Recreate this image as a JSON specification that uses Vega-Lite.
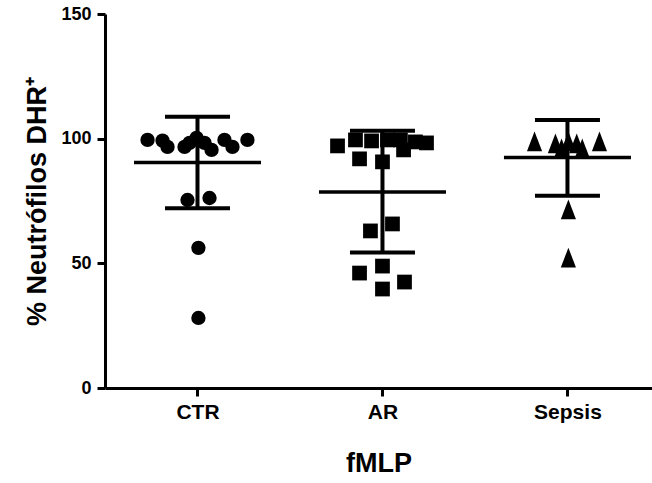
{
  "$schema": "https://vega.github.io/schema/vega-lite/v6.json",
  "width": 547,
  "height": 374,
  "autosize": "none",
  "padding": {"left": 105, "top": 14, "right": 0, "bottom": 95},
  "background": "white",
  "config": {
    "view": {"stroke": null},
    "font": "Liberation Sans",
    "axis": {
      "domainColor": "black",
      "domainWidth": 3,
      "tickColor": "black",
      "tickWidth": 3,
      "tickSize": 8,
      "grid": false,
      "labelColor": "black",
      "titleColor": "black",
      "labelFont": "Liberation Sans",
      "titleFont": "Liberation Sans",
      "labelFontWeight": "bold",
      "titleFontWeight": "bold"
    }
  },
  "datasets": {
    "points": [
      {"group": "CTR", "pos": 0.730, "value": 99.5},
      {"group": "CTR", "pos": 0.811, "value": 99.2},
      {"group": "CTR", "pos": 0.838, "value": 96.7},
      {"group": "CTR", "pos": 0.930, "value": 96.7},
      {"group": "CTR", "pos": 0.957, "value": 98.3},
      {"group": "CTR", "pos": 0.995, "value": 100.3},
      {"group": "CTR", "pos": 1.038, "value": 98.3},
      {"group": "CTR", "pos": 1.076, "value": 95.5},
      {"group": "CTR", "pos": 1.146, "value": 99.5},
      {"group": "CTR", "pos": 1.189, "value": 96.7},
      {"group": "CTR", "pos": 1.270, "value": 99.5},
      {"group": "CTR", "pos": 0.946, "value": 75.4},
      {"group": "CTR", "pos": 1.065, "value": 76.2},
      {"group": "CTR", "pos": 1.005, "value": 56.2},
      {"group": "CTR", "pos": 1.005, "value": 28.1},
      {"group": "AR", "pos": 1.757, "value": 97.1},
      {"group": "AR", "pos": 1.854, "value": 99.5},
      {"group": "AR", "pos": 1.941, "value": 99.1},
      {"group": "AR", "pos": 2.027, "value": 99.5},
      {"group": "AR", "pos": 2.097, "value": 99.5},
      {"group": "AR", "pos": 2.178, "value": 98.7},
      {"group": "AR", "pos": 2.238, "value": 98.3},
      {"group": "AR", "pos": 2.114, "value": 95.5},
      {"group": "AR", "pos": 1.876, "value": 91.9},
      {"group": "AR", "pos": 2.000, "value": 90.7},
      {"group": "AR", "pos": 1.935, "value": 63.0},
      {"group": "AR", "pos": 2.054, "value": 65.8},
      {"group": "AR", "pos": 1.876, "value": 46.1},
      {"group": "AR", "pos": 2.000, "value": 48.9},
      {"group": "AR", "pos": 2.000, "value": 39.7},
      {"group": "AR", "pos": 2.119, "value": 42.5},
      {"group": "Sepsis", "pos": 2.822, "value": 98.3},
      {"group": "Sepsis", "pos": 2.935, "value": 97.5},
      {"group": "Sepsis", "pos": 2.968, "value": 95.5},
      {"group": "Sepsis", "pos": 3.005, "value": 98.3},
      {"group": "Sepsis", "pos": 3.050, "value": 97.5},
      {"group": "Sepsis", "pos": 3.080, "value": 95.5},
      {"group": "Sepsis", "pos": 3.173, "value": 98.3},
      {"group": "Sepsis", "pos": 3.005, "value": 71.0},
      {"group": "Sepsis", "pos": 3.005, "value": 51.7}
    ],
    "stats": [
      {"group": "CTR", "pos": 1, "mean": 90.4, "lo": 72.1, "hi": 108.8},
      {"group": "AR", "pos": 2, "mean": 78.6, "lo": 54.3, "hi": 103.2},
      {"group": "Sepsis", "pos": 3, "mean": 92.4, "lo": 77.1, "hi": 107.5}
    ]
  },
  "encoding": {
    "x": {
      "field": "pos",
      "type": "quantitative",
      "scale": {"domain": [0.5, 3.457], "nice": false, "zero": false},
      "axis": {
        "values": [1, 2, 3],
        "labelExpr": "datum.value == 1 ? 'CTR' : datum.value == 2 ? 'AR' : 'Sepsis'",
        "labelFontSize": 21,
        "labelPadding": 5,
        "title": "fMLP",
        "titleFontSize": 27,
        "titlePadding": 28
      }
    }
  },
  "layer": [
    {
      "data": {"name": "points"},
      "mark": {"type": "point", "filled": true, "opacity": 1, "color": "black"},
      "encoding": {
        "y": {
          "field": "value",
          "type": "quantitative",
          "scale": {"domain": [0, 150], "nice": false},
          "axis": {
            "values": [0, 50, 100, 150],
            "labelFontSize": 18,
            "labelPadding": 6,
            "title": "% Neutrófilos DHR⁺",
            "titleFontSize": 27,
            "titlePadding": 9
          }
        },
        "shape": {
          "field": "group",
          "type": "nominal",
          "scale": {"domain": ["CTR", "AR", "Sepsis"], "range": ["circle", "square", "M0,-1.5L1,1.1L-1,1.1Z"]},
          "legend": null
        },
        "size": {
          "field": "group",
          "type": "nominal",
          "scale": {"domain": ["CTR", "AR", "Sepsis"], "range": [205, 230, 200]},
          "legend": null
        }
      }
    },
    {
      "data": {"name": "stats"},
      "mark": {"type": "rule", "color": "black", "strokeWidth": 4},
      "encoding": {
        "y": {"field": "lo", "type": "quantitative"},
        "y2": {"field": "hi"}
      }
    },
    {
      "data": {"name": "stats"},
      "mark": {"type": "tick", "orient": "horizontal", "color": "black", "size": 127, "thickness": 3.5, "opacity": 1},
      "encoding": {
        "y": {"field": "mean", "type": "quantitative"}
      }
    },
    {
      "data": {"name": "stats"},
      "mark": {"type": "tick", "orient": "horizontal", "color": "black", "size": 65, "thickness": 4, "opacity": 1},
      "encoding": {
        "y": {"field": "lo", "type": "quantitative"}
      }
    },
    {
      "data": {"name": "stats"},
      "mark": {"type": "tick", "orient": "horizontal", "color": "black", "size": 65, "thickness": 4, "opacity": 1},
      "encoding": {
        "y": {"field": "hi", "type": "quantitative"}
      }
    }
  ]
}
